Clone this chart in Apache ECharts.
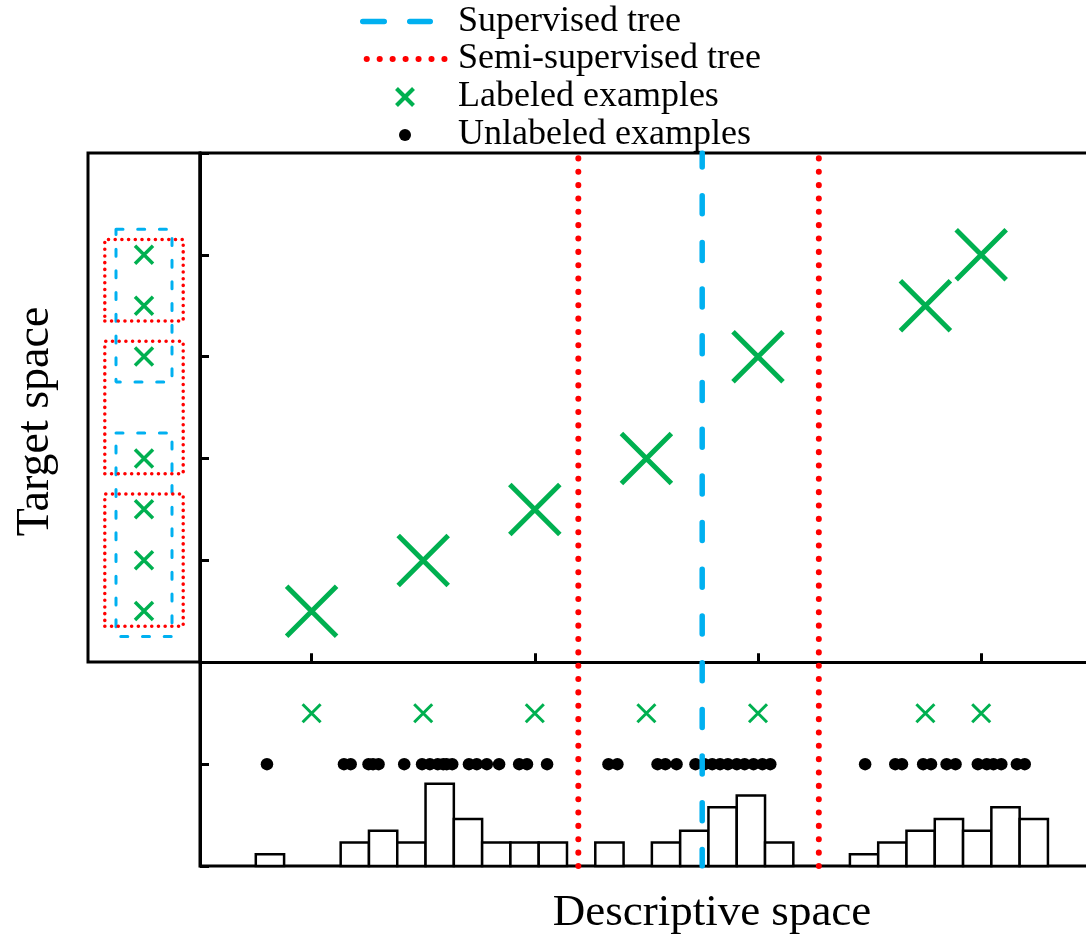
<!DOCTYPE html>
<html>
<head>
<meta charset="utf-8">
<script src="https://cdn.jsdelivr.net/npm/echarts@6.0.0/dist/echarts.min.js"></script>
<style>
  html, body { margin: 0; padding: 0; background: #fff; }
  #main { width: 1086px; height: 939px; }
</style>
</head>
<body>
<div id="main"></div>
<script>
// values: x = descriptive space, y = target space
var labeledX = [2, 3, 4, 5, 6, 7.5, 8];
var labeledY = [1, 2, 3, 4, 6, 7, 8];
var unlabeledX = [1.60, 2.29, 2.35, 2.51, 2.55, 2.60, 2.83, 2.99, 3.06, 3.13, 3.18, 3.21, 3.26,
    3.41, 3.48, 3.57, 3.68, 3.86, 3.93, 4.11,
    4.66, 4.74, 5.10, 5.17, 5.27, 5.44, 5.52, 5.59, 5.66, 5.73, 5.81, 5.88, 5.96, 6.04, 6.11,
    6.96, 7.23, 7.29, 7.48, 7.55, 7.69, 7.77, 7.97, 8.05, 8.11, 8.18, 8.32, 8.39];
var histStart = 1.5;
var histWidth = 0.2535;
var histCounts = [1, 0, 0, 2, 3, 2, 7, 4, 2, 2, 2, 0, 2, 0, 2, 3, 5, 6, 2, 0, 0, 1, 2, 3, 4, 3, 5, 4];
var supervisedSplits = [5.5];
var semiSplits = [4.39, 6.545];
var supervisedLeaves = [[5.5, 8.5], [0.5, 4.5]];
var semiLeaves = [[6.7, 8.3], [3.7, 6.3], [0.7, 3.3]];

var GREEN = '#00b050', BLUE = '#00b0f0', RED = '#ff0000';
var FONT = '"Liberation Serif", "Times New Roman", serif';
var crossPath = 'path://M0,0L10,10M10,0L0,10';
var rowLabeled = -1, rowUnlabeled = -2;   // rows of the lower strip

var myChart = echarts.init(document.getElementById('main'));

function pairs(xs, y) {
    return xs.map(function (x, i) { return [x, Array.isArray(y) ? y[i] : y]; });
}
function box(r, x0, x1) {
    return [[x0, r[0]], [x1, r[0]], [x1, r[1]], [x0, r[1]], [x0, r[0]]];
}
function cross(size, width) {
    return {
        symbol: crossPath, symbolSize: size,
        itemStyle: { color: 'rgba(0,0,0,0)', borderColor: GREEN, borderWidth: width, opacity: 1 }
    };
}

var series = [];

// histogram of the descriptive values
series.push({
    type: 'custom',
    xAxisIndex: 0, yAxisIndex: 1,
    z: 2,
    data: histCounts.map(function (c, i) { return [histStart + i * histWidth, c]; }),
    renderItem: function (params, api) {
        var c = api.value(1);
        if (!c) return null;
        var x0 = api.value(0);
        var a = api.coord([x0, c]);
        var b = api.coord([x0 + histWidth, 0]);
        return {
            type: 'rect',
            shape: { x: a[0], y: a[1], width: b[0] - a[0], height: b[1] - a[1] },
            style: { fill: '#fff', stroke: '#000', lineWidth: 2.5 }
        };
    }
});

// unlabeled points
series.push({
    type: 'scatter', xAxisIndex: 0, yAxisIndex: 0, z: 3,
    symbol: 'circle', symbolSize: 12.5,
    itemStyle: { color: '#000', opacity: 1 },
    data: pairs(unlabeledX, rowUnlabeled)
});
// labeled points in the lower strip
series.push(Object.assign({
    type: 'scatter', xAxisIndex: 0, yAxisIndex: 0, z: 3,
    data: pairs(labeledX, rowLabeled)
}, cross(18, 3)));
// labeled points, descriptive vs target
series.push(Object.assign({
    type: 'scatter', xAxisIndex: 0, yAxisIndex: 0, z: 3,
    data: pairs(labeledX, labeledY)
}, cross(50, 5)));

// tree splits
semiSplits.forEach(function (s) {
    series.push({
        type: 'line', xAxisIndex: 0, yAxisIndex: 0, z: 6,
        symbol: 'none',
        lineStyle: { color: RED, width: 6, type: [0.1, 13.25], cap: 'round' },
        data: [[s, -4], [s, 10]]
    });
});
supervisedSplits.forEach(function (s) {
    series.push({
        type: 'line', xAxisIndex: 0, yAxisIndex: 0, z: 6,
        symbol: 'none',
        lineStyle: { color: BLUE, width: 5.5, type: [18, 28.7], dashOffset: 4, cap: 'round' },
        data: [[s, 10], [s, -4]]
    });
});

// target space strip: leaves of both trees
supervisedLeaves.forEach(function (r) {
    series.push({
        type: 'line', xAxisIndex: 1, yAxisIndex: 2, z: 4,
        symbol: 'none',
        lineStyle: { color: BLUE, width: 3, type: [7, 14.7], cap: 'round' },
        data: box([r[1], r[0]], 2.5, 7.5)
    });
});
semiLeaves.forEach(function (r) {
    series.push({
        type: 'line', xAxisIndex: 1, yAxisIndex: 2, z: 5,
        symbol: 'none',
        lineStyle: { color: RED, width: 3.5, type: [0.1, 6.6], cap: 'round' },
        data: box(r, 1.5, 8.5)
    });
});
series.push(Object.assign({
    type: 'scatter', xAxisIndex: 1, yAxisIndex: 2, z: 6,
    data: labeledY.map(function (y) { return [5, y]; })
}, cross(18, 3.5)));

var option = {
    animation: false,
    backgroundColor: '#fff',
    grid: [
        { left: 200, top: 153, width: 892.8, height: 713, show: true,
          borderColor: '#000', borderWidth: 3, backgroundColor: 'transparent',
          containLabel: false, outerBoundsMode: 'none' },
        { left: 88, top: 153, width: 112, height: 509, show: true,
          borderColor: '#000', borderWidth: 3, backgroundColor: 'transparent',
          containLabel: false, outerBoundsMode: 'none' }
    ],
    xAxis: [
        { type: 'value', gridIndex: 0, min: 1, max: 9,
          axisLine: { show: true, onZero: true, lineStyle: { color: '#000', width: 3 } },
          axisTick: { show: true, inside: true, length: 9, customValues: [2, 4, 6, 8],
                      lineStyle: { color: '#000', width: 3 } },
          axisLabel: { show: false }, splitLine: { show: false } },
        { type: 'value', gridIndex: 1, min: 0, max: 10, show: false }
    ],
    yAxis: [
        { type: 'value', gridIndex: 0, min: -4, max: 10, interval: 2,
          axisLine: { show: true, onZero: false, lineStyle: { color: '#000', width: 3 } },
          axisTick: { show: true, inside: true, length: 9, lineStyle: { color: '#000', width: 3 } },
          axisLabel: { show: false }, splitLine: { show: false } },
        { type: 'value', gridIndex: 0, min: 0, max: 60.7, show: false },
        { type: 'value', gridIndex: 1, min: 0, max: 10, show: false }
    ],
    graphic: [
        // legend
        { type: 'line', shape: { x1: 362.75, y1: 21.5, x2: 430.25, y2: 21.5 },
          style: { stroke: BLUE, lineWidth: 5.5, lineDash: [21.5, 25.5], lineCap: 'round' } },
        { type: 'text', x: 458, y: 21.5,
          style: { text: 'Supervised tree', font: '36px ' + FONT, fill: '#000', verticalAlign: 'middle' } },
        { type: 'line', shape: { x1: 366.7, y1: 59, x2: 444.5, y2: 59 },
          style: { stroke: RED, lineWidth: 6, lineDash: [0.1, 12.85], lineCap: 'round' } },
        { type: 'text', x: 458, y: 59,
          style: { text: 'Semi-supervised tree', font: '36px ' + FONT, fill: '#000', verticalAlign: 'middle' } },
        { type: 'line', shape: { x1: 396.5, y1: 88.5, x2: 413.5, y2: 105.5 },
          style: { stroke: GREEN, lineWidth: 4 } },
        { type: 'line', shape: { x1: 413.5, y1: 88.5, x2: 396.5, y2: 105.5 },
          style: { stroke: GREEN, lineWidth: 4 } },
        { type: 'text', x: 458, y: 97,
          style: { text: 'Labeled examples', font: '36px ' + FONT, fill: '#000', verticalAlign: 'middle' } },
        { type: 'circle', shape: { cx: 405, cy: 135, r: 6 }, style: { fill: '#000' } },
        { type: 'text', x: 458, y: 135,
          style: { text: 'Unlabeled examples', font: '36px ' + FONT, fill: '#000', verticalAlign: 'middle' } },
        // axis titles
        { type: 'text', x: 36, y: 421.5, rotation: Math.PI / 2,
          style: { text: 'Target space', font: '46px ' + FONT, fill: '#000', align: 'center', verticalAlign: 'middle' } },
        { type: 'text', x: 712, y: 913,
          style: { text: 'Descriptive space', font: '45px ' + FONT, fill: '#000', align: 'center', verticalAlign: 'middle' } }
    ],
    series: series
};

myChart.setOption(option);
</script>
</body>
</html>
